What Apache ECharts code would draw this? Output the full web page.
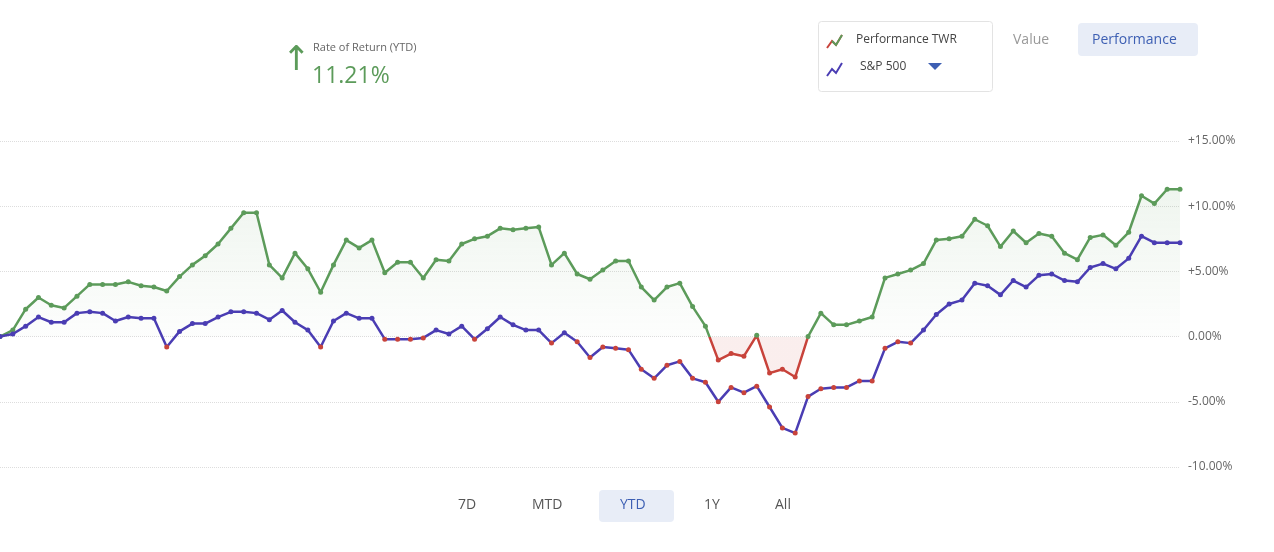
<!DOCTYPE html>
<html><head><meta charset="utf-8">
<script src="https://cdn.jsdelivr.net/npm/echarts@6/dist/echarts.min.js"></script>
<style>html,body{margin:0;padding:0;background:#fff}#c{width:1274px;height:552px}</style>
</head><body><div id="c"></div>
<script>
const twr = [0,0.5,2.1,3.0,2.4,2.2,3.1,4.0,4.0,4.0,4.2,3.9,3.8,3.5,4.6,5.5,6.2,7.1,8.3,9.5,9.5,5.5,4.5,6.4,5.2,3.4,5.5,7.4,6.8,7.4,4.9,5.7,5.7,4.5,5.9,5.8,7.1,7.5,7.7,8.3,8.2,8.3,8.4,5.5,6.4,4.8,4.4,5.1,5.8,5.8,3.8,2.8,3.8,4.1,2.3,0.8,-1.8,-1.3,-1.5,0.1,-2.8,-2.5,-3.1,0,1.8,0.9,0.9,1.2,1.5,4.5,4.8,5.1,5.6,7.4,7.5,7.7,9.0,8.5,6.9,8.1,7.2,7.9,7.7,6.4,5.9,7.6,7.8,7.0,8.0,10.8,10.2,11.3,11.3];
const spx = [0,0.2,0.8,1.5,1.1,1.1,1.8,1.9,1.8,1.2,1.5,1.4,1.4,-0.8,0.4,1.0,1.0,1.5,1.9,1.9,1.8,1.3,2.0,1.1,0.5,-0.8,1.2,1.8,1.4,1.4,-0.2,-0.2,-0.2,-0.1,0.5,0.2,0.8,-0.2,0.6,1.5,0.9,0.5,0.5,-0.5,0.3,-0.4,-1.6,-0.8,-0.9,-1.0,-2.5,-3.2,-2.2,-1.9,-3.2,-3.5,-5.0,-3.9,-4.3,-3.8,-5.4,-7.0,-7.4,-4.6,-4.0,-3.9,-3.9,-3.4,-3.4,-0.9,-0.4,-0.5,0.5,1.7,2.5,2.8,4.1,3.9,3.2,4.3,3.8,4.7,4.8,4.3,4.2,5.3,5.6,5.2,6.0,7.7,7.2,7.2,7.2];
const cats = twr.map((_, i) => i);
const yTicks = {min: -10, max: 15, step: 5};
const RED = '#c8433b', GREEN = '#5c9b5a', BLUE = '#4a3db3';
const GRID_TOP = 141, GRID_BOTTOM = 85, H = 552;
const zeroY = GRID_TOP + (H - GRID_TOP - GRID_BOTTOM) * yTicks.max / (yTicks.max - yTicks.min);
const z = zeroY / H;
const lineGrad = {type:'linear', x:0, y:0, x2:0, y2:H, global:true,
  colorStops:[{offset:0, color:GREEN},{offset:z, color:GREEN},{offset:z, color:RED},{offset:1, color:RED}]};
const areaGrad = {type:'linear', x:0, y:0, x2:0, y2:H, global:true,
  colorStops:[{offset:0.3, color:'rgba(92,155,90,0.16)'},{offset:z, color:'rgba(92,155,90,0.02)'},
              {offset:z, color:'rgba(200,67,59,0.13)'},{offset:1, color:'rgba(200,67,59,0.13)'}]};
const chart = echarts.init(document.getElementById('c'));
const btn = (x, y, t, col) => ({type:'text', left:x, top:y, style:{text:t, fill:col||'#555', font:'14px "Open Sans", sans-serif'}});
chart.setOption({
  animation:false,
  grid:{left:0, right:94, top:GRID_TOP, bottom:GRID_BOTTOM},
  xAxis:{type:'category', data:cats, boundaryGap:false, axisLine:{show:false}, axisTick:{show:false}, axisLabel:{show:false}},
  yAxis:{type:'value', position:'right', min:yTicks.min, max:yTicks.max, interval:yTicks.step,
    axisLine:{show:false}, axisTick:{show:false},
    splitLine:{lineStyle:{type:'dotted', color:'#ddd'}},
    axisLabel:{color:'#666', fontSize:12, margin:8, fontFamily:'Open Sans',
      formatter:v => (v>0?'+':'') + v.toFixed(2) + '%'}},
  series:[
    {type:'line', data:twr.map(v => ({value:v, itemStyle:{color: v<0?RED:GREEN}})), symbol:'circle', symbolSize:5,
     lineStyle:{width:2.5, color:lineGrad}, areaStyle:{color:areaGrad}, z:2},
    {type:'line', data:spx.map(v => ({value:v, itemStyle:{color: v<0?RED:BLUE}})),
     symbol:'circle', symbolSize:5, itemStyle:{color:BLUE}, lineStyle:{width:2.5, color:BLUE}, z:3}
  ],
  graphic:[
    {type:'text', left:282, top:44, style:{text:'↑', fill:GREEN, font:'34px "DejaVu Sans"'}},
    {type:'text', left:313, top:42, style:{text:'Rate of Return (YTD)', fill:'#666', font:'11px "Open Sans", sans-serif'}},
    {type:'text', left:312, top:65, style:{text:'11.21%', fill:GREEN, font:'23px "Open Sans", sans-serif'}},
    {type:'rect', shape:{x:818.5, y:21.5, width:174, height:70, r:3}, style:{fill:'#fff', stroke:'#e3e3e3'}},
    {type:'polyline', shape:{points:[[827,48],[832,41],[836,45],[842,35]]}, style:{stroke:RED, lineWidth:2, fill:null}},
    {type:'polyline', shape:{points:[[832,41],[836,45],[842,35]]}, style:{stroke:GREEN, lineWidth:2, fill:null}},
    {type:'polyline', shape:{points:[[827,76],[832,69],[836,73],[842,63]]}, style:{stroke:BLUE, lineWidth:2, fill:null}},
    {type:'text', left:856, top:34, style:{text:'Performance TWR', fill:'#444', font:'12px "Open Sans", sans-serif'}},
    {type:'text', left:860, top:61, style:{text:'S&P 500', fill:'#444', font:'12px "Open Sans", sans-serif'}},
    {type:'polygon', shape:{points:[[928,63],[942,63],[935,70]]}, style:{fill:'#3d5fb3'}},
    {type:'text', left:1013, top:33, style:{text:'Value', fill:'#999', font:'14px "Open Sans", sans-serif'}},
    {type:'rect', shape:{x:1078, y:23, width:120, height:33, r:4}, style:{fill:'#e8edf7'}},
    {type:'text', left:1092, top:33, style:{text:'Performance', fill:'#3d5fb3', font:'14px "Open Sans", sans-serif'}},
    {type:'rect', shape:{x:599, y:490, width:75, height:32, r:4}, style:{fill:'#e8edf7'}},
    btn(458, 498, '7D'), btn(532, 498, 'MTD'), btn(620, 498, 'YTD', '#3d5fb3'), btn(704, 498, '1Y'), btn(775, 498, 'All')
  ]
});
</script></body></html>
